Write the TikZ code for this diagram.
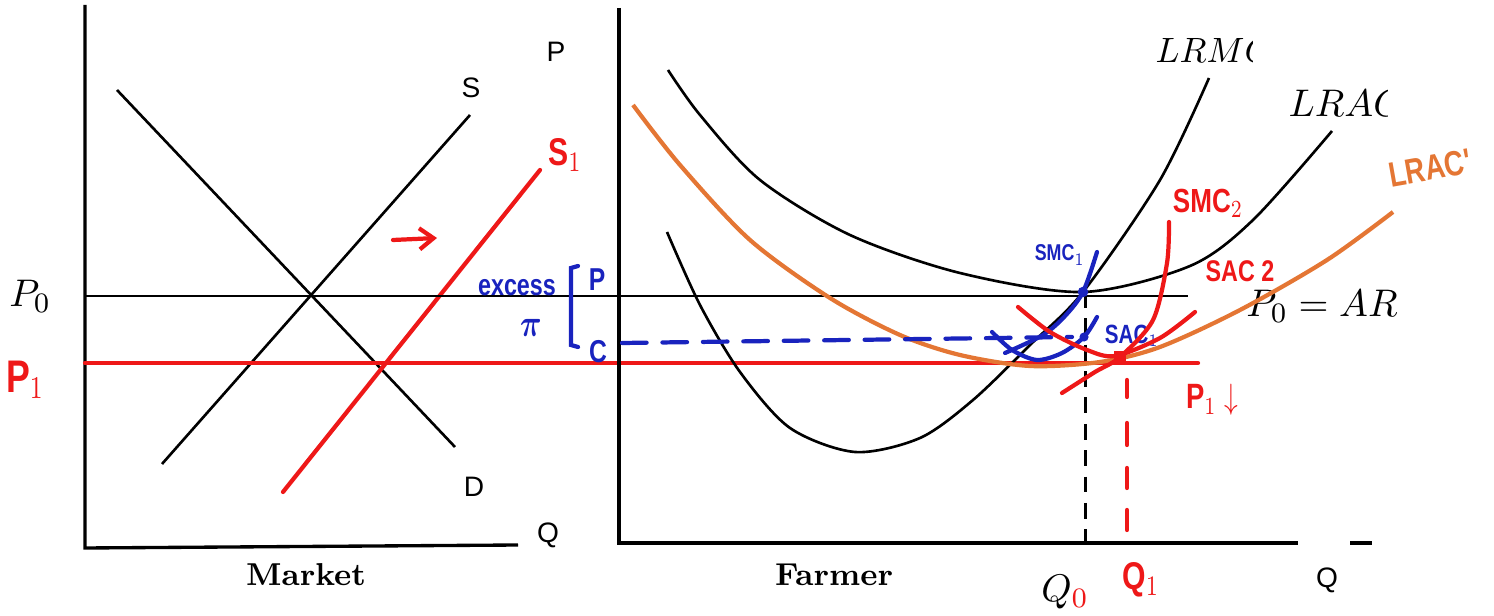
\documentclass[tikz,border=0pt]{standalone}
\usepackage{graphicx}
\usepackage{fontspec}
\newfontfamily\arialfont{Liberation Sans}
\usetikzlibrary{arrows.meta}
\definecolor{penred}{RGB}{238,24,24}
\definecolor{penblue}{RGB}{25,35,190}
\definecolor{lracorange}{RGB}{228,118,52}
\newcommand{\pen}[1]{\scalebox{0.78}[1]{#1}}
\tikzset{
  axis/.style={line width=0.95pt},
  curve/.style={line width=0.75pt},
  redpen/.style={penred,line width=1.2pt,line cap=round},
  bluepen/.style={penblue,line width=1.2pt,line cap=round},
  lbl/.style={font=\arialfont\fontsize{8}{8}\selectfont,inner sep=0pt},
  title/.style={font=\bfseries\fontsize{9}{9}\selectfont,inner sep=0pt},
  mathlbl/.style={font=\fontsize{11}{11}\selectfont,inner sep=0pt},
  hand/.style={font=\arialfont\bfseries\fontsize{#1}{#1}\selectfont,inner sep=0pt},
  hand/.default=9
}
\begin{document}
\begin{tikzpicture}[x=0.01cm,y=-0.01cm]
\useasboundingbox (0,0) rectangle (1494,616);
% ---------- Market ----------
\coordinate (mY) at (85,5); \coordinate (mO) at (85,548); \coordinate (mX) at (518,545);
\draw[axis] (mY) -- (mO) -- (mX);
\node[lbl] (mQ) at (548,535) {Q};
\node[lbl] (mP) at (556,52) {P};
\node[title] (market) at (306,575) {Market};
% supply and demand
\draw[curve] (162,464) -- (470,115);
\node[lbl] (Slab) at (471,88) {S};
\draw[curve] (117,90) -- (455,447);
\node[lbl] (Dlab) at (474,487) {D};
% shifted supply
\draw[redpen] (283,492) -- (540,170);
\node[hand=11,penred] (S1lab) at (565,155) {\pen{S$_1$}};
\draw[redpen,-{Straight Barb[length=4pt,width=6pt]}] (393,240) -- (437,238);
% price lines
\draw[curve,line width=0.8pt] (85,296) -- (1188,296);
\node[mathlbl] (P0lab) at (30,296) {$P_0$};
\draw[redpen] (85,363) -- (1198,363);
\node[hand=13,penred] (P1lab) at (25,380) {\pen{P$_1$}};
% ---------- Farmer ----------
\coordinate (fY) at (619,8); \coordinate (fO) at (619,543); \coordinate (fX) at (1298,543);
\draw[axis] (fY) -- (fO) -- (fX);
\draw[axis] (1350,543) -- (1372,543);
\node[lbl] (fQ) at (1327,580) {Q};
\node[title] (farmer) at (834,575) {Farmer};
% LRMC
\draw[curve] plot[smooth] coordinates {(667,232) (700,305) (740,372) (790,428) (855,452) (920,438) (973,400) (1030,345) (1083,292) (1160,180) (1209,78)};
\begin{scope}
\clip (1140,20) rectangle (1252,80);
\node[mathlbl,font=\fontsize{10.3}{10.3}\selectfont,anchor=west] (LRMClab) at (1155,50) {$LRMC$};
\end{scope}
% LRAC
\draw[curve] plot[smooth] coordinates {(668,70) (700,115) (760,180) (850,235) (960,273) (1083,292) (1190,266) (1253,220) (1332,131)};
\begin{scope}
\clip (1280,75) rectangle (1387,130);
\node[mathlbl,anchor=west] (LRAClab) at (1288,103) {$LRAC$};
\end{scope}
\node[mathlbl] (ARlab) at (1322,306) {$P_0 = AR$};
% new LRAC
\draw[lracorange,line width=1.2pt] plot[smooth] coordinates {(633,105) (680,165) (750,240) (830,298) (900,335) (960,355) (1030,366) (1100,362) (1160,347) (1240,310) (1327,260) (1393,212)};
\node[hand=10,lracorange,rotate=10] (LRACnew) at (1430,168) {\pen{LRAC'}};
% Q0 guide
\draw[axis,line width=0.85pt,dash pattern=on 4.5pt off 3pt] (1085,292) -- (1085,543);
\node[mathlbl] (Q0lab) at (1065,592) {$Q_{\textcolor{penred}{0}}$};
% short run, firm 1
\draw[bluepen,dash pattern=on 7pt off 4.5pt] (622,343) -- (1072,337);
\draw[bluepen] plot[smooth] coordinates {(992,332) (1012,350) (1037,360) (1062,353) (1084,337) (1097,317)};
\draw[bluepen] plot[smooth] coordinates {(1005,353) (1043,335) (1065,316) (1083,292) (1097,252)};
\node[circle,fill=penblue,inner sep=0pt,minimum size=3pt] (A) at (1083,292) {};
\node[circle,fill=penblue,inner sep=0pt,minimum size=2.6pt] (B) at (1084,337) {};
\node[hand=6.5,penblue] (SMC1lab) at (1060,255) {\pen{SMC$_1$}};
\node[hand=7.5,penblue] (SAC1lab) at (1132,336) {\pen{SAC$_1$}};
% excess profit bracket
\node[hand=8.5,penblue] (excess) at (517,288) {\pen{excess}};
\node[hand=11,penblue] (pilab) at (531,328) {\pen{\boldmath$\pi$}};
\draw[bluepen] (578,266) -- (571,268) -- (571,345) -- (578,347);
\node[hand=9,penblue] (Plab) at (597,280) {\pen{P}};
\node[hand=9,penblue] (Clab) at (598,352) {\pen{C}};
% short run, firm 2
\draw[redpen] plot[smooth] coordinates {(1062,393) (1095,372) (1120,357) (1153,320) (1167,263) (1169,222)};
\draw[redpen] plot[smooth] coordinates {(1018,307) (1050,332) (1087,350) (1115,356) (1160,338) (1195,312)};
\node[fill=penred,inner sep=0pt,minimum size=3.4pt] (E) at (1120,357) {};
\node[hand=9.5,penred] (SMC2lab) at (1208,203) {\pen{SMC$_2$}};
\node[hand=8.5,penred] (SAC2lab) at (1240,271) {\pen{SAC 2}};
\node[hand=10,penred] (P1down) at (1212,400) {\pen{P$_1\downarrow$}};
% Q1 guide, hand dashes
\foreach \a/\b in {380/397,423/445,468/488,510/530}
  \draw[redpen] (1127,\a) -- (1127,\b);
\node[hand=11,penred] (Q1lab) at (1141,580) {\pen{Q$_1$}};
\end{tikzpicture}
\end{document}
